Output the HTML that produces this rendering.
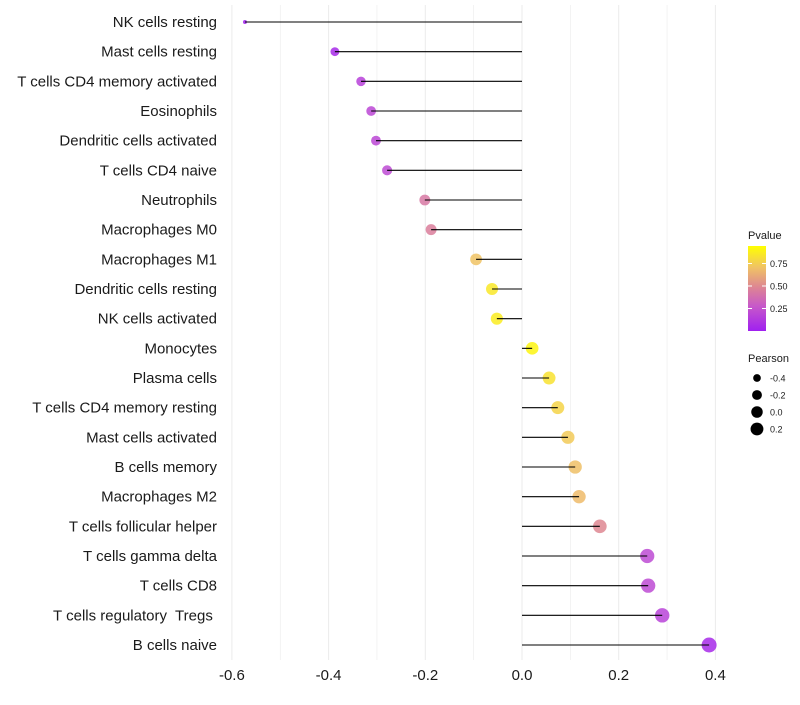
<!DOCTYPE html>
<html><head><meta charset="utf-8"><style>
body{margin:0;background:#fff;}
svg text{font-family:"Liberation Sans",sans-serif;white-space:pre;}
</style></head><body>
<svg id="chart" width="800" height="700" xmlns="http://www.w3.org/2000/svg">
<g id="grid"></g>
<g id="marks"></g>
<g id="ylabels"></g>
<g id="xlabels"></g>
<g id="legend"></g>
</svg>
<script>
const categories=["NK cells resting","Mast cells resting","T cells CD4 memory activated","Eosinophils","Dendritic cells activated","T cells CD4 naive","Neutrophils","Macrophages M0","Macrophages M1","Dendritic cells resting","NK cells activated","Monocytes","Plasma cells","T cells CD4 memory resting","Mast cells activated","B cells memory","Macrophages M2","T cells follicular helper","T cells gamma delta","T cells CD8","T cells regulatory\u00a0 Tregs\u00a0","B cells naive"];
const pearson=[-0.573,-0.387,-0.333,-0.312,-0.302,-0.279,-0.201,-0.188,-0.095,-0.062,-0.052,0.021,0.056,0.074,0.095,0.110,0.118,0.161,0.259,0.261,0.290,0.387];
const pvalue=[0.01,0.05,0.17,0.2,0.2,0.22,0.45,0.48,0.75,0.9,0.92,0.96,0.88,0.82,0.78,0.74,0.72,0.52,0.22,0.22,0.18,0.05];
const xTicks=[-0.6,-0.4,-0.2,0.0,0.2,0.4];
const xTickLabels=["-0.6","-0.4","-0.2","0.0","0.2","0.4"];
const legendP=[0.25,0.5,0.75];
const legendPearson=[-0.4,-0.2,0.0,0.2];

const NS="http://www.w3.org/2000/svg";
const X=v=>522+v*483.5;
const Y=i=>22+i*29.667;
const R=v=>2+5.5*Math.sqrt(Math.max(0,(v+0.573)/0.96));
const stops=[[0,[160,32,240]],[0.3,[200,90,200]],[0.5,[220,130,150]],[0.75,[240,195,100]],[1,[255,255,0]]];
function col(p){p=Math.max(0,Math.min(1,p));for(let k=1;k<stops.length;k++){if(p<=stops[k][0]){const a=stops[k-1],b=stops[k],t=(p-a[0])/(b[0]-a[0]);const c=a[1].map((x,j)=>Math.round(x+(b[1][j]-x)*t));return `rgb(${c})`;}}return "rgb(255,255,0)";}
function el(tag,attrs,parent){const e=document.createElementNS(NS,tag);for(const k in attrs)e.setAttribute(k,attrs[k]);parent.appendChild(e);return e;}
const grid=document.getElementById('grid');
for(let v=-0.6;v<=0.41;v+=0.1){const g=el('line',{x1:X(v),x2:X(v),y1:5,y2:660,stroke:'#ebebeb','stroke-width':Math.abs(Math.round(v*10))%2===0?1:0.6},grid);

}
const marks=document.getElementById('marks'),yl=document.getElementById('ylabels');
categories.forEach((c,i)=>{
 const d=el('circle',{cx:X(pearson[i]),cy:Y(i),r:R(pearson[i]),fill:col(pvalue[i]),'fill-opacity':0.85},marks);
 
 
 const s=el('line',{x1:X(0),x2:X(pearson[i]),y1:Y(i),y2:Y(i),stroke:'#000','stroke-width':1.1},marks);
 
 
 const t=el('text',{x:217,y:Y(i)+5,'text-anchor':'end','font-size':15,fill:'#1a1a1a'},yl);t.textContent=c;
 
 
});
const xl=document.getElementById('xlabels');
xTicks.forEach((v,i)=>{const t=el('text',{x:X(v),y:680,'text-anchor':'middle','font-size':15,fill:'#1a1a1a'},xl);t.textContent=xTickLabels[i];

});
const lg=document.getElementById('legend');
const lt=el('text',{x:748,y:239,'font-size':11,fill:'#1a1a1a'},lg);lt.textContent='Pvalue';
const defs=el('defs',{},lg);const gr=el('linearGradient',{id:'pg',x1:0,y1:1,x2:0,y2:0},defs);
stops.forEach(s=>el('stop',{offset:s[0],'stop-color':col(s[0])},gr));
const bar=el('rect',{x:748,y:246,width:18,height:85,fill:'url(#pg)'},lg);


legendP.forEach(p=>{const y=331-p*90;el('line',{x1:748,x2:752,y1:y,y2:y,stroke:'#fff'},lg);el('line',{x1:762,x2:766,y1:y,y2:y,stroke:'#fff'},lg);
const t=el('text',{x:770,y:y+3.5,'font-size':9,fill:'#1a1a1a'},lg);t.textContent=p.toFixed(2);});
const pt=el('text',{x:748,y:362,'font-size':11,fill:'#1a1a1a'},lg);pt.textContent='Pearson';
legendPearson.forEach((v,i)=>{const y=378+i*17;const c=el('circle',{cx:757,cy:y,r:R(v)-0.5,fill:'#000'},lg);


const t=el('text',{x:770,y:y+3.5,'font-size':9,fill:'#1a1a1a'},lg);t.textContent=v.toFixed(1);});
</script>
</body></html>
